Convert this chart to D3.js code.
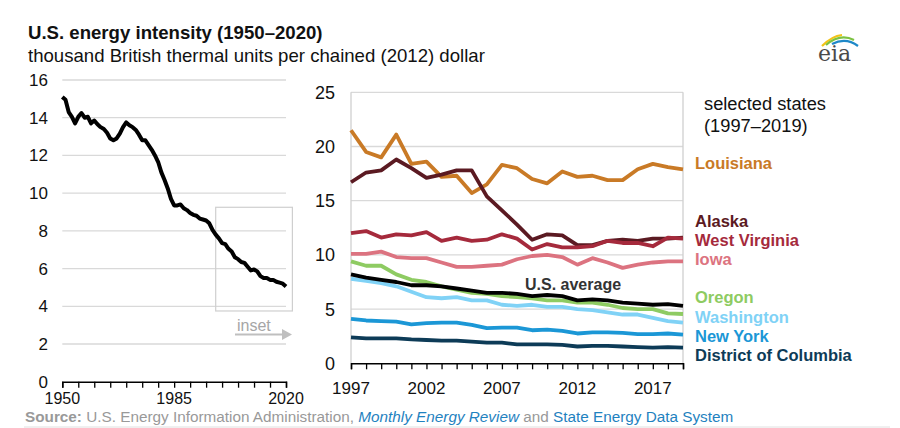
<!DOCTYPE html>
<html><head><meta charset="utf-8">
<script src="https://cdn.jsdelivr.net/npm/d3@7/dist/d3.min.js"></script>
<style>
html,body{margin:0;padding:0;background:#fff;}
svg{display:block;font-family:"Liberation Sans",Arial,sans-serif;}
</style></head>
<body>
<svg id="chart" width="900" height="428"></svg>
<script>
// ---------- DATA ----------
const usYears = d3.range(1950, 2021);
const usIntensity = [15.1,14.95,14.3,14.05,13.7,14.05,14.25,14.0,14.05,13.7,
  13.85,13.65,13.5,13.4,13.2,12.9,12.8,12.9,13.15,13.5,
  13.75,13.6,13.5,13.35,13.1,12.8,12.8,12.55,12.3,12.0,
  11.65,11.1,10.7,10.25,9.7,9.35,9.35,9.4,9.2,9.1,
  8.95,8.85,8.8,8.65,8.6,8.55,8.4,8.05,7.8,7.6,
  7.35,7.3,7.05,6.9,6.6,6.5,6.35,6.3,6.1,5.9,
  5.95,5.85,5.6,5.5,5.5,5.4,5.4,5.3,5.25,5.2,5.05];
const leftYTicks = [0,2,4,6,8,10,12,14,16];
const leftXLabels = [1950,1985,2020];
const insetBox = {x0:1998, x1:2022, y0:3.75, y1:9.25};

const stateYears = d3.range(1997, 2020);
const louisiana = [21.5,19.5,19.0,21.1,18.4,18.6,17.2,17.3,15.7,16.5,18.3,18.0,17.0,16.6,17.7,17.2,17.3,16.9,16.9,17.9,18.4,18.1,17.9];
const alaska = [16.7,17.6,17.8,18.8,18.0,17.1,17.4,17.8,17.8,15.4,14.1,12.8,11.4,11.9,11.8,10.9,10.9,11.3,11.4,11.3,11.5,11.5,11.6];
const westVirginia = [12.0,12.2,11.6,11.9,11.8,12.1,11.3,11.6,11.3,11.4,11.9,11.5,10.5,11.0,10.7,10.7,10.8,11.3,11.1,11.1,10.8,11.6,11.5];
const iowa = [10.1,10.1,10.3,9.8,9.7,9.7,9.3,8.9,8.9,9.0,9.1,9.6,9.9,10.0,9.8,9.1,9.7,9.3,8.8,9.1,9.3,9.4,9.4];
const oregon = [9.4,9.0,9.0,8.2,7.7,7.5,7.1,6.8,6.5,6.4,6.2,6.1,6.0,5.8,5.8,5.6,5.6,5.4,5.1,5.0,5.0,4.6,4.55];
const usAverage = [8.2,7.9,7.7,7.5,7.2,7.2,7.1,6.9,6.7,6.5,6.5,6.4,6.2,6.3,6.2,5.8,5.9,5.8,5.6,5.5,5.4,5.45,5.3];
const washington = [7.8,7.6,7.4,7.1,6.6,6.1,6.0,6.1,5.8,5.8,5.4,5.3,5.4,5.2,5.2,5.0,4.9,4.7,4.5,4.5,4.2,3.9,3.75];
const newYork = [4.1,3.95,3.9,3.85,3.6,3.7,3.75,3.75,3.55,3.25,3.3,3.3,3.05,3.1,3.0,2.75,2.85,2.85,2.8,2.7,2.7,2.75,2.65];
const dc = [2.4,2.3,2.3,2.3,2.2,2.15,2.1,2.1,2.0,1.9,1.9,1.75,1.75,1.75,1.7,1.55,1.6,1.6,1.55,1.5,1.45,1.5,1.45];
const rightYTicks = [0,5,10,15,20,25];
const rightXLabels = [1997,2002,2007,2012,2017];

const stateNames = ["Louisiana","Iowa","Alaska","West Virginia","District of Columbia","New York","Washington","Oregon","U.S. average"];
const stateValues = [louisiana, iowa, alaska, westVirginia, dc, newYork, washington, oregon, usAverage];
const stateColors = ["#c97a26","#dc7380","#5b1a22","#a52a3c","#0d3b57","#1b97d6","#80d2f6","#8ecb62","#000000"];
const stateLabelY = [17.9, 9.07, 12.57, 10.8, 0.2, 1.97, 3.72, 5.56, null]; // label baselines in value units

// ---------- DRAW ----------
const svg = d3.select("#chart");
const grid = "#d9d9d9";

// Title
svg.append("text").attr("x",28).attr("y",39).attr("font-size",18.6).attr("font-weight","bold").attr("fill","#111")
  .text("U.S. energy intensity (1950–2020)");
svg.append("text").attr("x",28).attr("y",62).attr("font-size",18.6).attr("fill","#111")
  .text("thousand British thermal units per chained (2012) dollar");

// ---- Left chart ----
const lx = d3.scaleLinear().domain([1950,2020]).range([62.3,286]);
const ly = d3.scaleLinear().domain([0,16]).range([381.7,80]);
const L = svg.append("g");
L.selectAll("line.g").data(leftYTicks.filter(d=>d>0)).join("line")
  .attr("x1",lx(1950)).attr("x2",lx(2020)).attr("y1",d=>ly(d)).attr("y2",d=>ly(d))
  .attr("stroke",grid).attr("stroke-width",1.3);
L.selectAll("text.yl").data(leftYTicks).join("text")
  .attr("x",48).attr("y",d=>ly(d)+6).attr("text-anchor","end").attr("font-size",17).attr("fill","#111").text(d=>d);
const lAxis = L.append("g").attr("transform",`translate(0,${ly(0)})`)
  .call(d3.axisBottom(lx).tickValues(d3.range(1950,2021,5)).tickSize(6).tickFormat(""));
lAxis.select(".domain").attr("stroke","#000").attr("stroke-width",1.5);
lAxis.selectAll(".tick line").attr("stroke","#000").attr("stroke-width",1.3);
L.selectAll("text.xl").data(leftXLabels).join("text")
  .attr("x",d=>lx(d)).attr("y",404).attr("text-anchor","middle").attr("font-size",16).attr("fill","#111").text(d=>d);
// inset box
L.append("rect").attr("x",lx(insetBox.x0)).attr("y",ly(insetBox.y1))
  .attr("width",lx(insetBox.x1)-lx(insetBox.x0)).attr("height",ly(insetBox.y0)-ly(insetBox.y1))
  .attr("fill","none").attr("stroke","#cfcfcf").attr("stroke-width",1.2);
L.append("path").datum(usIntensity)
  .attr("d",d3.line().x((d,i)=>lx(usYears[i])).y(d=>ly(d)))
  .attr("fill","none").attr("stroke","#000").attr("stroke-width",4).attr("stroke-linejoin","round");
L.append("text").attr("x",237).attr("y",331).attr("font-size",16).attr("fill","#a6a6a6").text("inset");
L.append("line").attr("x1",235).attr("x2",283).attr("y1",334.5).attr("y2",334.5).attr("stroke","#bfbfbf").attr("stroke-width",2);
L.append("path").attr("d","M282,329 L292,334.5 L282,340 Z").attr("fill","#bfbfbf");

// ---- Right chart ----
const rx = d3.scaleLinear().domain([1997,2019]).range([351,683]);
const ry = d3.scaleLinear().domain([0,25]).range([363.3,92.3]);
const R = svg.append("g");
R.selectAll("line.g").data(rightYTicks.filter(d=>d>0)).join("line")
  .attr("x1",rx(1997)).attr("x2",rx(2019)).attr("y1",d=>ry(d)).attr("y2",d=>ry(d))
  .attr("stroke",grid).attr("stroke-width",1.3);
R.append("line").attr("x1",rx(1997)).attr("x2",rx(1997)).attr("y1",ry(25)).attr("y2",ry(0)).attr("stroke","#cfcfcf").attr("stroke-width",1.3);
R.append("line").attr("x1",rx(2019)).attr("x2",rx(2019)).attr("y1",ry(25)).attr("y2",ry(0)).attr("stroke","#cfcfcf").attr("stroke-width",1.3);
R.selectAll("text.yl").data(rightYTicks).join("text")
  .attr("x",335).attr("y",d=>ry(d)+6.5).attr("text-anchor","end").attr("font-size",18).attr("fill","#111").text(d=>d);
const rAxis = R.append("g").attr("transform",`translate(0,${ry(0)})`)
  .call(d3.axisBottom(rx).tickValues(stateYears).tickSize(6).tickFormat(""));
rAxis.select(".domain").attr("stroke","#000").attr("stroke-width",1.5);
rAxis.selectAll(".tick line").attr("stroke","#000").attr("stroke-width",1.3);
R.selectAll("text.xl").data(rightXLabels).join("text")
  .attr("x",d=>rx(d)).attr("y",394).attr("text-anchor","middle").attr("font-size",17).attr("fill","#111").text(d=>d);

const line = d3.line().x((d,i)=>rx(stateYears[i])).y(d=>ry(d));
stateValues.forEach((vals,k)=>{
  R.append("path").datum(vals).attr("d",line).attr("fill","none")
    .attr("stroke",stateColors[k]).attr("stroke-width",3.8).attr("stroke-linejoin","round");
});
// labels
stateNames.forEach((n,k)=>{
  if(stateLabelY[k]===null) return;
  R.append("text").attr("x",695).attr("y",ry(stateLabelY[k])).attr("font-size",16.5).attr("font-weight","bold")
    .attr("fill",stateColors[k]).text(n);
});
R.append("text").attr("x",525).attr("y",290).attr("font-size",16).attr("font-weight","bold").attr("fill","#333").text("U.S. average");
R.append("text").attr("x",704).attr("y",110).attr("font-size",18.3).attr("fill","#111").text("selected states");
R.append("text").attr("x",704).attr("y",132).attr("font-size",18.3).attr("fill","#111").text("(1997–2019)");

// ---- Source ----
const src = svg.append("text").attr("x",25).attr("y",422).attr("font-size",15.3).attr("fill","#999");
src.append("tspan").attr("font-weight","bold").text("Source:");
src.append("tspan").text(" U.S. Energy Information Administration, ");
src.append("tspan").attr("fill","#1f82c0").attr("font-style","italic").text("Monthly Energy Review");
src.append("tspan").text(" and ");
src.append("tspan").attr("fill","#1f82c0").text("State Energy Data System");
svg.append("line").attr("x1",24).attr("x2",890).attr("y1",427).attr("y2",427).attr("stroke","#e0e0e0").attr("stroke-width",1);

// ---- EIA logo ----
const logo = svg.append("g");
logo.append("path").attr("d","M822,46 Q832,36 842,35").attr("fill","none").attr("stroke","#f2c318").attr("stroke-width",2.2);
logo.append("path").attr("d","M826,45 Q840,33 854,40").attr("fill","none").attr("stroke","#7cc242").attr("stroke-width",2.2);
logo.append("path").attr("d","M832,44 Q846,37 858,46").attr("fill","none").attr("stroke","#1e88c8").attr("stroke-width",2.2);
logo.append("text").attr("x",818).attr("y",61).attr("font-size",22).attr("font-family","DejaVu Serif, serif").attr("fill","#4a4a4a").text("eia");
</script>
</body></html>
